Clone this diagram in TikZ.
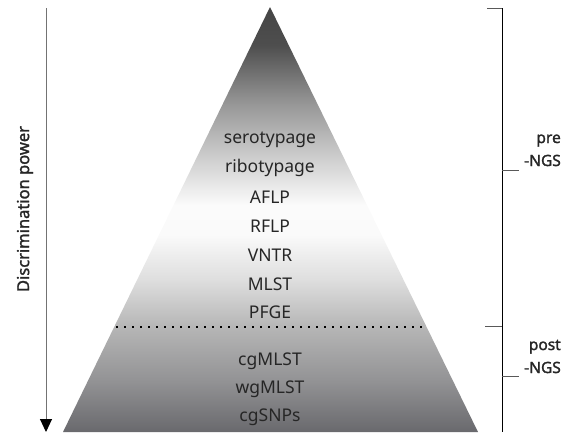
\documentclass[tikz,border=0pt]{standalone}
\usepackage{fontspec}
\setmainfont{Noto Sans}
\newfontfamily\bsans{Noto Sans}[FakeBold=1.6]
\usetikzlibrary{arrows.meta}
\definecolor{c7}{HTML}{454545}
\definecolor{c45}{HTML}{4E4E4E}
\definecolor{c100}{HTML}{929292}
\definecolor{c150}{HTML}{C6C6C6}
\definecolor{c205}{HTML}{FBFBFB}
\definecolor{c235}{HTML}{FAFAFA}
\definecolor{c280}{HTML}{DEDEDE}
\definecolor{c327}{HTML}{B6B6B6}
\definecolor{c380}{HTML}{939395}
\definecolor{c432}{HTML}{69696D}
\pgfdeclareverticalshading{pyr}{100bp}{
 color(0bp)=(c432);
 color(25bp)=(c432);
 color(31.1bp)=(c380);
 color(37.4bp)=(c327);
 color(42.9bp)=(c280);
 color(48.2bp)=(c235);
 color(51.7bp)=(c205);
 color(58.2bp)=(c150);
 color(64.1bp)=(c100);
 color(70.5bp)=(c45);
 color(75bp)=(c7);
 color(100bp)=(c7)}
\tikzset{
 lbl/.style={anchor=base, font=\fontsize{17.5}{20}\selectfont, text=black!85, inner sep=0pt},
 side/.style={anchor=base east, align=right, font=\fontsize{15.5}{23}\selectfont\bsans, text=black!85, inner sep=0pt},
 tick/.style={draw=black!65, line width=0.8pt},
}
\begin{document}
\begin{tikzpicture}[x=1pt,y=-1pt]
\useasboundingbox (0,0) rectangle (572,432);
% pyramid
\path[shading=pyr] (270,7) -- (478,432) -- (63,432) -- cycle;
% labels
\node[lbl] (sero) at (270,143) {serotypage};
\node[lbl] (ribo) at (270,172) {ribotypage};
\node[lbl] (aflp) at (270,203) {AFLP};
\node[lbl] (rflp) at (270,232) {RFLP};
\node[lbl] (vntr) at (270,261) {VNTR};
\node[lbl] (mlst) at (270,290) {MLST};
\node[lbl] (pfge) at (270,318) {PFGE};
\node[lbl] (cgm) at (270,365) {cgMLST};
\node[lbl] (wgm) at (270,393) {wgMLST};
\node[lbl] (snp) at (270,421) {cgSNPs};
% dotted divider
\coordinate (dl) at (116,327);
\coordinate (dr) at (426,327);
\draw[line width=1.7pt, dash pattern=on 1.7pt off 6.3pt] (dl) -- (dr);
% left arrow
\coordinate (atop) at (46,8);
\coordinate (abot) at (46,432);
\draw[black!55, line width=1pt, -{Triangle[black, length=13pt, width=12pt]}] (atop) -- (abot);
\node[rotate=90, font=\fontsize{16.5}{18}\selectfont\bsans, text=black!85, inner sep=0pt] (dp) at (25,209) {Discrimination power};
% bracket
\coordinate (btop) at (502,8);
\coordinate (bbot) at (502,432);
\draw[black, line width=1pt] (btop) -- (bbot);
\coordinate (t1) at (487,8);
\coordinate (t2) at (485,326);
\coordinate (t2b) at (502,326);
\coordinate (m1a) at (502,170);
\coordinate (m1b) at (519,170);
\coordinate (m2a) at (502,376);
\coordinate (m2b) at (519,376);
\draw[tick] (t1) -- (btop);
\draw[tick] (t2) -- (t2b);
\draw[tick] (m1a) -- (m1b);
\draw[tick] (m2a) -- (m2b);
\node[side] (pre) at (561,166) {pre\\-NGS};
\node[side] (post) at (561,373) {post\\-NGS};
\end{tikzpicture}
\end{document}
